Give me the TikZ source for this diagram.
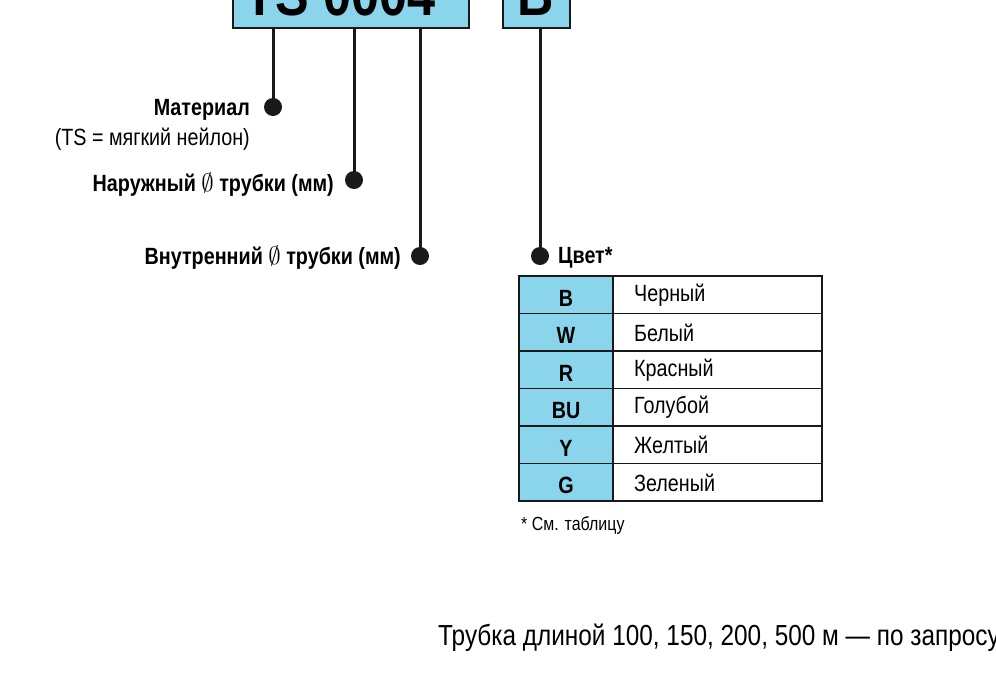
\documentclass[tikz,border=0pt]{standalone}
\usepackage{fontspec}
\setmainfont{Liberation Sans}[FakeStretch=0.84]
\definecolor{cy}{HTML}{8AD5EC}
\begin{document}
\begin{tikzpicture}[x=1pt,y=-1pt,
  box/.style={draw=black!90,line width=2.6pt,fill=cy},
  ln/.style={draw=black!90,line width=3pt},
  dot/.style={circle,fill=black!90,inner sep=0pt,minimum size=18pt},
  lab/.style={font=\fontsize{23.5}{26}\selectfont\bfseries,inner sep=0pt},
  txt/.style={font=\fontsize{23.5}{26}\selectfont,inner sep=0pt},
  cell/.style={draw=black!90,line width=1.8pt}]
\useasboundingbox (0,0) rectangle (996,683);
\clip (0,0) rectangle (996,683);
\fill[box] (233,-30) rectangle (469,28);
\fill[box] (503,-30) rectangle (570,28);
\node[font=\fontsize{60}{62}\selectfont\bfseries,anchor=base] (ts) at (340,15) {TS 0004};
\node[font=\fontsize{60}{62}\selectfont\bfseries,anchor=base] (bb) at (536,15) {B};
\node[dot] (d1) at (273,107) {};
\node[dot] (d2) at (354,180) {};
\node[dot] (d3) at (420,256) {};
\node[dot] (d4) at (540,256) {};
\coordinate (t1) at (273,28); \coordinate (t2) at (354,28);
\coordinate (t3) at (420,28); \coordinate (t4) at (540,28);
\draw[ln] (t1)--(d1.center); \draw[ln] (t2)--(d2.center);
\draw[ln] (t3)--(d3.center); \draw[ln] (t4)--(d4.center);
\node[lab,anchor=east] (l1) at (250,110) {Материал};
\node[txt,anchor=east] (l1b) at (250,139) {(TS = мягкий нейлон)};
\node[lab,anchor=east] (l2) at (334,185) {Наружный $\emptyset$ трубки (мм)};
\node[lab,anchor=east] (l3) at (401,258) {Внутренний $\emptyset$ трубки (мм)};
\node[lab,anchor=west] (l4) at (558,258) {Цвет*};
\foreach \c/\n [count=\i] in {B/Черный,W/Белый,R/Красный,BU/Голубой,Y/Желтый,G/Зеленый}{
  \pgfmathsetmacro\ya{276+37.5*(\i-1)}
  \pgfmathsetmacro\yb{276+37.5*\i}
  \filldraw[cell,fill=cy] (519,\ya) rectangle (613,\yb);
  \draw[cell] (613,\ya) rectangle (822,\yb);
  \node[lab,anchor=center] (c\i) at (566,\ya+22) {\c};
  \node[txt,anchor=west] (n\i) at (634,\ya+19) {\n};
}
\node[txt,anchor=west,font=\fontsize{19}{22}\selectfont] (note) at (521,525) {* См. таблицу};
\node[txt,anchor=west,font=\fontsize{29}{32}\selectfont] (bot) at (438,638) {Трубка длиной 100, 150, 200, 500 м — по запросу};
\end{tikzpicture}
\end{document}
